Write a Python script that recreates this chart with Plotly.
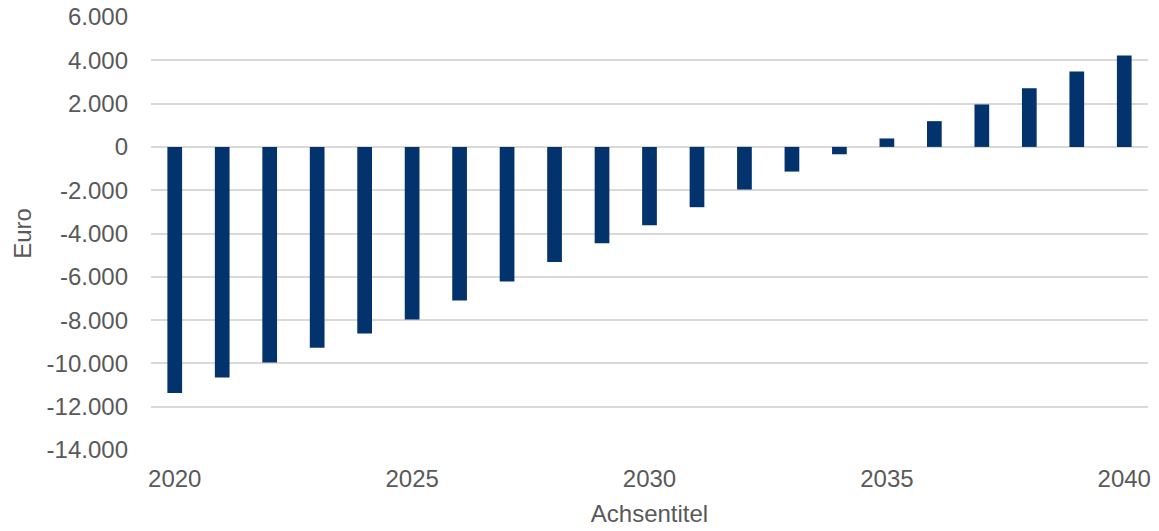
import plotly.graph_objects as go

# Jährliche Differenz in Euro, 2020 bis 2040
years = list(range(2020, 2041))
values = [-11370, -10650, -9955, -9280, -8615, -7970, -7090, -6220,
          -5320, -4445, -3615, -2785, -1970, -1140, -340,
          390, 1190, 1960, 2710, 3480, 4220]

y_ticks = list(range(-14000, 6001, 2000))
y_tick_text = [f"{v:,}".replace(",", ".") for v in y_ticks]
x_ticks = [2020, 2025, 2030, 2035, 2040]

bar_color = "#03336C"
grid_color = "#D9D9D9"
text_color = "#595959"
font_family = "Liberation Sans, Arial, sans-serif"
font_size = 24

fig = go.Figure(
    go.Bar(
        x=years,
        y=values,
        marker=dict(color=bar_color, line=dict(width=0)),
        width=0.31,
    )
)

fig.update_layout(
    width=1159,
    height=531,
    margin=dict(l=151, r=11, t=17, b=81),
    paper_bgcolor="white",
    plot_bgcolor="white",
    showlegend=False,
    font=dict(family=font_family, size=font_size, color=text_color),
    xaxis=dict(
        automargin=False,
        range=[2019.5, 2040.5],
        tickmode="array",
        tickvals=x_ticks,
        ticktext=[str(v) for v in x_ticks],
        showgrid=False,
        zeroline=False,
        showline=False,
        ticks="",
        ticklabelstandoff=12,
        tickfont=dict(size=font_size, color=text_color),
        title=dict(text="Achsentitel", font=dict(size=font_size, color=text_color), standoff=14),
    ),
    yaxis=dict(
        automargin=False,
        range=[-14000, 6000],
        tickmode="array",
        tickvals=y_ticks,
        ticktext=y_tick_text,
        showgrid=True,
        gridcolor=grid_color,
        gridwidth=1.5,
        zeroline=True,
        zerolinecolor=grid_color,
        zerolinewidth=1.5,
        showline=False,
        ticks="",
        ticklabelstandoff=22,
        tickfont=dict(size=font_size, color=text_color),
        title=dict(text="Euro", font=dict(size=font_size, color=text_color), standoff=8),
    ),
)

fig.write_html("out.html")
